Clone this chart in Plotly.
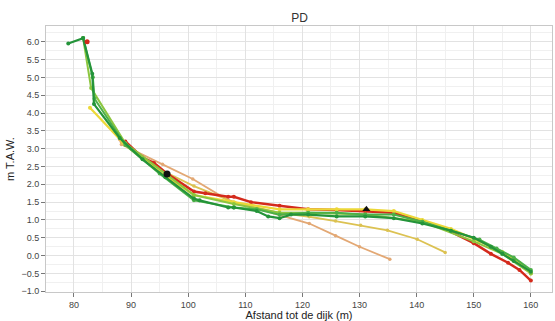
import plotly.graph_objects as go

# Data
red_x = [89, 92, 94, 96.3, 101, 103, 107, 108, 111, 116, 121, 126, 131, 136, 140, 145, 150, 153, 156, 158, 160]
red_y = [3.2, 2.75, 2.6, 2.3, 1.8, 1.75, 1.65, 1.65, 1.5, 1.4, 1.3, 1.28, 1.25, 1.2, 1.0, 0.75, 0.35, 0.05, -0.2, -0.4, -0.7]
red_pt_x = [82.3]
red_pt_y = [6.0]

tan_x = [88.0, 88.3, 95.5, 100.8, 107, 116, 121.2, 125.8, 130.0, 135.3]
tan_y = [3.26, 3.12, 2.56, 2.15, 1.55, 1.15, 0.90, 0.56, 0.25, -0.10]

olive_x = [88.5, 94, 101, 108, 116, 121.2, 125.8, 130.2, 134.9, 140.1, 145.0]
olive_y = [3.15, 2.5, 1.95, 1.5, 1.2, 1.09, 0.97, 0.85, 0.71, 0.46, 0.09]

yellow_x = [82.8, 89, 95, 101, 108, 116, 121, 126, 131, 136, 141, 146, 151, 155, 158, 160]
yellow_y = [4.15, 3.1, 2.35, 1.7, 1.5, 1.3, 1.3, 1.3, 1.3, 1.25, 1.0, 0.75, 0.4, 0.1, -0.2, -0.5]

lgreen_x = [81.6, 83.0, 89, 96, 101, 108, 116, 121, 131, 141, 150, 155, 160]
lgreen_y = [6.1, 4.7, 3.15, 2.3, 1.7, 1.45, 1.2, 1.2, 1.15, 0.95, 0.4, 0.05, -0.5]

mgreen_x = [81.6, 83.3, 83.6, 89, 95, 101, 108, 112, 116, 121, 126, 131, 136, 141, 146, 151, 154, 157, 160]
mgreen_y = [6.1, 5.0, 4.4, 3.1, 2.3, 1.55, 1.35, 1.3, 1.15, 1.2, 1.2, 1.15, 1.15, 0.95, 0.7, 0.45, 0.2, -0.05, -0.4]

dgreen_x = [79.0, 81.6, 83.2, 83.5, 88, 92, 96, 101, 102, 107, 108, 112, 114, 116, 118, 121, 126, 131, 136, 141, 146, 150, 153, 155, 157, 160]
dgreen_y = [5.95, 6.1, 5.1, 4.25, 3.3, 2.7, 2.2, 1.6, 1.55, 1.35, 1.35, 1.25, 1.1, 1.05, 1.15, 1.15, 1.1, 1.1, 1.05, 0.9, 0.7, 0.5, 0.25, 0.05, -0.15, -0.45]

circle_x = [96.3]
circle_y = [2.29]
tri_x = [131.2]
tri_y = [1.30]

x_ticks = [80, 90, 100, 110, 120, 130, 140, 150, 160]

fig = go.Figure()

def add(x, y, color, width=2, size=4):
    fig.add_trace(go.Scatter(x=x, y=y, mode="lines+markers",
                             line=dict(color=color, width=width),
                             marker=dict(color=color, size=size),
                             showlegend=False))

add(tan_x, tan_y, "#e3a874", 1.8, 3.5)
add(olive_x, olive_y, "#dcc252", 1.8, 3.5)
add(red_x, red_y, "#d42a1c", 2.5, 4)
add(yellow_x, yellow_y, "#ecd838", 2.2, 4)
add(lgreen_x, lgreen_y, "#8cc63f", 2.0, 4)
add(mgreen_x, mgreen_y, "#4cb048", 2.0, 4)
add(dgreen_x, dgreen_y, "#24943a", 2.2, 4)

fig.add_trace(go.Scatter(x=red_pt_x, y=red_pt_y, mode="markers",
                         marker=dict(color="#d42a1c", size=5), showlegend=False))
fig.add_trace(go.Scatter(x=circle_x, y=circle_y, mode="markers",
                         marker=dict(color="#111111", size=7), showlegend=False))
fig.add_trace(go.Scatter(x=tri_x, y=tri_y, mode="markers",
                         marker=dict(color="#111111", size=7, symbol="triangle-up"), showlegend=False))

axis_common = dict(
    showline=True, linecolor="#c8c8c8", linewidth=1, mirror=True,
    showgrid=True, gridcolor="#e2e2e2", gridwidth=1,
    ticks="outside", ticklen=4, tickcolor="#777777",
    tickfont=dict(family="Liberation Sans, Arial, sans-serif", size=9, color="#444444"),
    zeroline=False,
)

fig.update_layout(
    width=555, height=321,
    margin=dict(l=46, r=2, t=26, b=27),
    paper_bgcolor="white", plot_bgcolor="white",
    title=dict(text="PD", x=0.54, xanchor="center", y=0.945, yanchor="middle",
               font=dict(family="Liberation Sans, Arial, sans-serif", size=12, color="#333333")),
    xaxis=dict(range=[75.1, 163.7], tickvals=x_ticks,
               title=dict(text="Afstand tot de dijk (m)", standoff=2,
                          font=dict(family="Liberation Sans, Arial, sans-serif", size=11, color="#222222")),
               minor=dict(dtick=5, tick0=0, showgrid=True, gridcolor="#f0f0f0", ticks=""),
               **axis_common),
    yaxis=dict(range=[-1.02, 6.44], dtick=0.5, tick0=0, tickformat=".1f",
               title=dict(text="m T.A.W.", standoff=4,
                          font=dict(family="Liberation Sans, Arial, sans-serif", size=11, color="#222222")),
               minor=dict(dtick=0.25, tick0=0, showgrid=True, gridcolor="#f0f0f0", ticks=""),
               **axis_common),
)

fig.write_html("out.html")
